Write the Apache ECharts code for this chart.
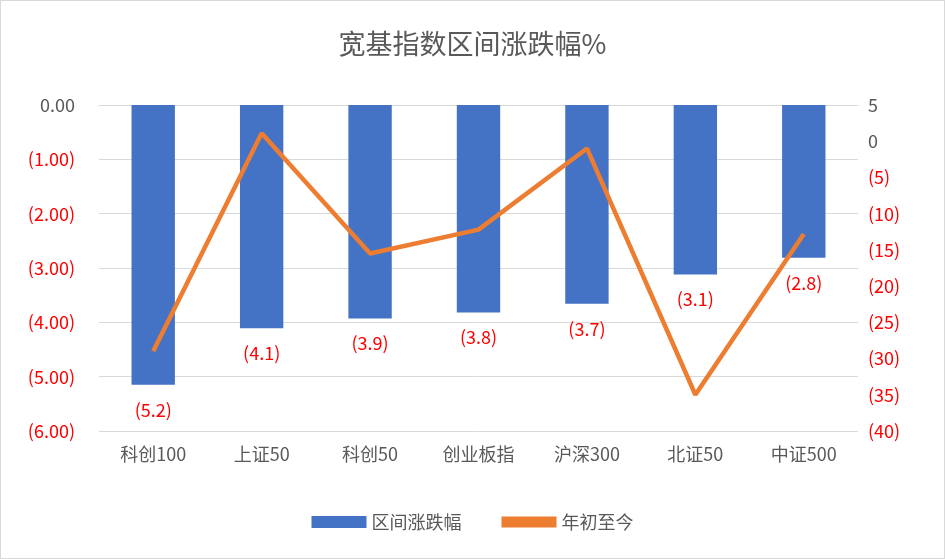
<!DOCTYPE html>
<html><head><meta charset="utf-8">
<script src="https://cdn.jsdelivr.net/npm/echarts@6/dist/echarts.min.js"></script>
<style>html,body{margin:0;padding:0;background:#fff}#c{width:943px;height:557px;border:1px solid #d9d9d9}</style>
</head><body><div id="c"></div>
<script>
const categories = ['科创100','上证50','科创50','创业板指','沪深300','北证50','中证500'];
const rangeChange = [-5.15,-4.11,-3.93,-3.82,-3.66,-3.12,-2.81];
const ytdChange = [-29,1.1,-15.5,-12.2,-1,-35,-12.8];
const F = '"Microsoft YaHei","Noto Sans CJK SC",sans-serif';
const chart = echarts.init(document.getElementById('c'));
chart.setOption({
  animation:false,
  title:{text:'宽基指数区间涨跌幅%',left:'center',top:24,textStyle:{fontFamily:F,fontSize:27,fontWeight:'normal',color:'#595959'}},
  legend:{bottom:22,itemGap:40,itemWidth:55,itemHeight:12,textStyle:{fontFamily:F,fontSize:18,color:'#595959'},
    data:[{name:'区间涨跌幅',icon:'rect'},{name:'年初至今',icon:'path://M0,4L10,4L10,6L0,6Z'}]},
  grid:{left:98,right:86,top:104,bottom:127},
  xAxis:{type:'category',data:categories,axisTick:{show:false},axisLine:{lineStyle:{color:'#d9d9d9'}},
    axisLabel:{fontFamily:F,fontSize:18,color:'#595959',margin:14}},
  yAxis:[
    {type:'value',min:-6,max:0,interval:1,splitLine:{lineStyle:{color:'#d9d9d9'}},
     axisLabel:{fontFamily:F,fontSize:18,margin:24,formatter:v=>v<0?'('+(-v).toFixed(2)+')':'0.00',
       color:v=>v<0?'#ff0000':'#595959'}},
    {type:'value',min:-40,max:5,interval:5,splitLine:{show:false},
     axisLabel:{fontFamily:F,fontSize:18,margin:10,formatter:v=>v<0?'('+(-v)+')':String(v),
       color:v=>v<0?'#ff0000':'#595959'}}
  ],
  series:[
    {name:'区间涨跌幅',type:'bar',data:rangeChange,barWidth:'40%',itemStyle:{color:'#4472c4'},
     label:{show:true,position:'bottom',distance:16,fontFamily:F,fontSize:18,color:'#ff0000',formatter:p=>'('+(-p.value).toFixed(1)+')'}},
    {name:'年初至今',type:'line',yAxisIndex:1,data:ytdChange,symbol:'none',lineStyle:{color:'#ed7d31',width:4.5},itemStyle:{color:'#ed7d31'}}
  ]
});
</script></body></html>
